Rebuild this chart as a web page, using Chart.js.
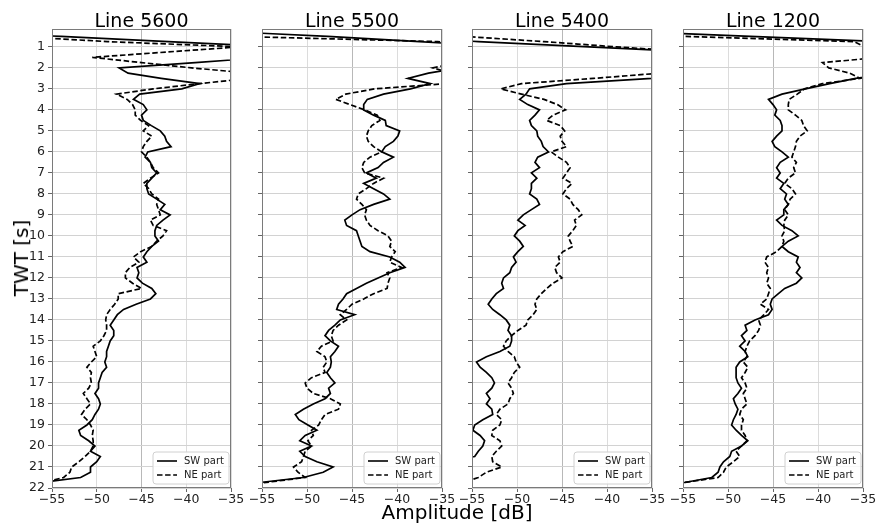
<!DOCTYPE html>
<html><head><meta charset="utf-8">
<script src="https://cdn.jsdelivr.net/npm/chart.js@4.4.1/dist/chart.umd.min.js"></script>
<style>
html,body{margin:0;padding:0;background:#fff;}
body{width:877px;height:526px;overflow:hidden;position:relative;font-family:"DejaVu Sans",sans-serif;color:#000;}
canvas{position:absolute;top:0;}
#ylab{position:absolute;left:21px;top:258px;transform:translate(-50%,-50%) rotate(-90deg);font-size:20px;white-space:nowrap;}
#xlab{position:absolute;left:457px;top:512px;transform:translate(-50%,-50%);font-size:20px;white-space:nowrap;}
</style></head>
<body>
<canvas id="c0" width="251" height="518" style="left:0px"></canvas>
<canvas id="c1" width="230" height="518" style="left:232px"></canvas>
<canvas id="c2" width="230" height="518" style="left:442px"></canvas>
<canvas id="c3" width="230" height="518" style="left:653px"></canvas>
<div id="ylab">TWT [s]</div>
<div id="xlab">Amplitude [dB]</div>
<script>
// ---------------- DATA ----------------
const titles = ["Line 5600", "Line 5500", "Line 5400", "Line 1200"];
const seriesNames = ["SW part", "NE part"];
const xTicks = [-55, -50, -45, -40, -35];
const yTicks = [1,2,3,4,5,6,7,8,9,10,11,12,13,14,15,16,17,18,19,20,21,22];
const twt = [
 0.25,0.5,0.75,1, 1.25,1.5,1.75,2, 2.25,2.5,2.75,3, 3.25,3.5,3.75,4,
 4.25,4.5,4.75,5, 5.25,5.5,5.75,6, 6.25,6.5,6.75,7, 7.25,7.5,7.75,8,
 8.25,8.5,8.75,9, 9.25,9.5,9.75,10, 10.25,10.5,10.75,11, 11.25,11.5,11.75,12,
 12.25,12.5,12.75,13, 13.25,13.5,13.75,14, 14.25,14.5,14.75,15, 15.25,15.5,15.75,16,
 16.25,16.5,16.75,17, 17.25,17.5,17.75,18, 18.25,18.5,18.75,19, 19.25,19.5,19.75,20,
 20.25,20.5,20.75,21, 21.25,21.5,21.75
];
const sw5600 = [
 -70,-54,-42,-30, -28,-31,-39,-47.5, -46.5,-42.8,-38.5,-40.5, -45.2,-45.9,-44.8,-44.4,
 -45,-44.8,-43.9,-42.9, -42.4,-42.2,-41.7,-44.3, -44.6,-44,-43.85,-43.3, -43.85,-44.4,-44.4,-44.2,
 -43.3,-42.4,-42.9,-41.8, -42.6,-43.3,-43.5,-43.5, -43.1,-43.85,-44.4,-44.8, -44.4,-45.5,-45.3,-45.5,
 -44.9,-43.85,-43.4,-44.0, -45.6,-47,-47.7,-48.1, -48.5,-48.1,-48.1,-48.5, -48.7,-48.9,-48.9,-49.1,
 -48.9,-49.4,-49.6,-49.8, -49.8,-50.2,-49.8,-49.6, -49.8,-50.2,-50.5,-51.1, -52,-51.8,-50.9,-50.2,
 -50.7,-49.6,-50.0,-50.7, -50.7,-51.8,-56.5
];
const ne5600 = [
 -70,-59,-48.8,-34, -42.3,-50.5,-45,-39.4, -33,-33,-38.5,-43.7, -47.8,-46.6,-46,-45.7,
 -45.7,-45.1,-44.2,-44.8, -43.85,-44.4,-44.8,-45, -44.4,-44,-43.7,-43.1, -44,-44.8,-44.2,-43.85,
 -43.1,-43.3,-43.1,-42.9, -44,-43.7,-42.2,-42.6, -43.3,-43.85,-45.1,-45.9, -45.3,-46.3,-46.8,-46.8,
 -46,-45,-47.6,-47.6, -48,-48.5,-48.9,-49, -48.9,-48.9,-49.2,-49.6, -50.4,-50.2,-50,-50.6,
 -51.1,-50.6,-50.7,-50.6, -50.9,-51.5,-51.1,-50.7, -51.3,-51.7,-51.1,-50.7, -50.4,-50.5,-50.4,-50.4,
 -50.7,-51.3,-52,-52.8, -53,-53.7,-56
];
const sw5500 = [
 -60,-47.7,-37.5,-28, -28,-28,-30,-33, -36.5,-38.8,-36.3,-38.5, -41.5,-43.3,-43.7,-43.7,
 -42.6,-41.3,-41.2,-39.7, -39.9,-40.4,-41.3,-41.7, -40.4,-41.5,-42.1,-43.4, -42.3,-43.7,-42.6,-41.5,
 -40.8,-42.6,-44.1,-45, -45.8,-45.6,-44.5,-44.3, -44.1,-43.9,-43,-40.8, -39.7,-39.1,-40.8,-42.1,
 -43.4,-44.5,-45.6,-46, -46.5,-46.7,-44.7,-46.3, -46.9,-47.6,-48,-47.4, -46.5,-46.9,-47.4,-47.3,
 -47.4,-47.8,-47.4,-46.9, -47.6,-47.4,-48,-49.3, -50.4,-51.3,-50.9,-49.9, -48.9,-50.2,-50.8,-49.5,
 -50.8,-50.2,-48.9,-47.1, -48.2,-50.4,-55.5
];
const ne5500 = [
 -70,-58,-35.5,-30, -30,-30,-33,-36, -34,-32,-34.5,-42.5, -45.7,-46.8,-45.2,-43.6,
 -42.2,-41.9,-42.8,-43.2, -43.4,-43.2,-42.6,-41.7, -43,-43.7,-43.9,-43.6, -41.5,-42.6,-43.4,-44.3,
 -44.5,-43.9,-43.4,-43.6, -43.4,-43,-42.1,-41, -40.6,-40.8,-40.2,-40.6, -40.8,-39.5,-41.1,-40.8,
 -41,-41.1,-42.6,-43.7, -45,-45.6,-46.3,-45.6, -46.5,-47.1,-47.3,-47.1, -48.4,-48.9,-48,-47.8,
 -48.2,-48,-49.5,-50.2, -50,-49.3,-47.4,-46.3, -46.5,-48,-48.4,-48.7, -49.5,-49.3,-49.9,-49.5,
 -50.2,-50.4,-50.6,-51.5, -51,-50.2,-54.8
];
const sw5400 = [
 -75,-65,-54.3,-42, -30,-28,-28,-28, -30,-35,-44.5,-48.6, -49,-49.7,-48.8,-47.5,
 -48,-48.6,-48.4,-47.8, -47.7,-47.3,-47.1,-46.5, -47.7,-48,-47.5,-48.4, -47.8,-48.4,-48.4,-48.6,
 -47.8,-47.5,-48.4,-49.3, -49.9,-49.1,-49.9,-50.3, -49.7,-49.3,-49.9,-50.4, -50.1,-50.6,-50.8,-51.5,
 -51.7,-51.5,-52.3,-52.8, -53.2,-52.7,-51.9,-51.2, -50.8,-51,-50.6,-50.6, -50.8,-51.9,-53.4,-54.5,
 -54.1,-53.4,-52.8,-52.5, -52.8,-53.4,-53,-53.4, -52.8,-52.7,-53.8,-54.7, -54.9,-54.1,-53.6,-53.8,
 -54.3,-54.7,-58,-60, -60,-60,-60
];
const ne5400 = [
 -75,-56,-47,-39, -30,-28,-28,-30, -34,-41.5,-49.5,-51.8, -49.5,-47,-45.5,-44.6,
 -46,-46.7,-45.2,-44.7, -45.2,-45,-44.5,-46.2, -45.4,-44.5,-44.1,-44.5, -44.9,-43.9,-44.5,-44.9,
 -44.1,-43.8,-43.2,-42.8, -43.6,-43.4,-43.8,-44.3, -44.1,-43.8,-44.9,-45.4, -45.2,-45.8,-45.6,-45,
 -46,-46.7,-47.3,-47.8, -48,-47.8,-48.2,-48.8, -49,-49.9,-50.6,-51.2, -51.5,-51,-50.3,-50.1,
 -49.7,-50.3,-50.6,-51, -50.6,-50.4,-50.8,-51, -51.9,-52.3,-51.7,-51.9, -52.7,-52.8,-51.9,-51.7,
 -52.3,-52.8,-52.7,-51.7, -53.4,-54.3,-56
];
const sw1200 = [
 -62,-47.5,-33,-30, -30,-30,-30,-30, -32,-35.8,-38.7,-41.4, -44,-45.5,-45,-44.6,
 -44.8,-44.2,-44,-44, -44.6,-45.1,-44.8,-44, -43.3,-44.2,-44.6,-44.2, -44.6,-43.8,-44.2,-43.5,
 -43.7,-43.3,-43.8,-43.8, -44.6,-44,-42.9,-42.2, -43.3,-44,-43.3,-42.2, -42.4,-42,-42.4,-41.8,
 -42.4,-43.7,-44.4,-45.1, -45.3,-45.1,-45.5,-47, -48.1,-47.9,-48.5,-48.1, -48.7,-48.1,-47.8,-48.7,
 -49.1,-49.1,-49.1,-48.9, -48.5,-48.9,-49.4,-49.2, -48.9,-49.1,-49.4,-49.6, -49.1,-48.5,-47.8,-48.5,
 -49.6,-49.8,-50.5,-50.9, -51.1,-51.8,-55
];
const ne1200 = [
 -70,-55,-36,-34.8, -33,-33,-39.5,-38.8, -36.5,-35.3,-39.5,-41.5, -42.3,-43.2,-43.3,-43.3,
 -42.5,-41.8,-41.6,-41.2, -42,-42.4,-42.5,-42.7, -42.9,-42.4,-42.7,-42.5, -43.3,-43.7,-42.9,-42.5,
 -43.1,-43.3,-43.7,-43.3, -43.7,-43.8,-43.7,-44, -43.8,-44,-44.6,-45.7, -45.9,-45.5,-45.7,-45.5,
 -45.7,-45.3,-45.5,-45.7, -46.4,-45.5,-46,-46.6, -46.4,-46.6,-47,-47.6, -47.9,-48.1,-47.9,-48.3,
 -47.8,-48.1,-48.5,-48.1, -47.9,-48.3,-48.1,-47.9, -48.5,-48.7,-48.3,-48.5, -48.5,-48.1,-47.9,-48.5,
 -49.1,-48.7,-49.4,-50.2, -50.5,-51.1,-55
];
const panelSeries = [[sw5600, ne5600], [sw5500, ne5500], [sw5400, ne5400], [sw1200, ne1200]];

// ---------------- LAYOUT / STYLE ----------------
const layoutCfg = [
  {yw: 52, pl: 0,  pr: 20, labels: true},
  {yw: 5,  pl: 25, pr: 20, labels: false},
  {yw: 5,  pl: 25, pr: 20, labels: false},
  {yw: 5,  pl: 25, pr: 20, labels: false}
];
const FONT = '"DejaVu Sans", sans-serif';
Chart.defaults.font.family = FONT;
Chart.defaults.color = '#222';

const minus = v => (v < 0 ? '\u2212' : '') + Math.abs(v);

const framePlugin = {
  id: 'frame',
  afterDatasetsDraw(chart) {
    const a = chart.chartArea, ctx = chart.ctx;
    ctx.save();
    ctx.strokeStyle = '#7a7a7a'; ctx.lineWidth = 1;
    ctx.strokeRect(Math.round(a.left) + 0.5, Math.round(a.top) + 0.5,
                   Math.round(a.right - a.left) - 1, Math.round(a.bottom - a.top) - 1);
    ctx.restore();
  }
};
const titlePlugin = {
  id: 'ptitle',
  afterDraw(chart, args, opts) {
    const a = chart.chartArea, ctx = chart.ctx;
    ctx.save();
    ctx.font = '19px ' + FONT; ctx.fillStyle = '#000';
    ctx.textAlign = 'center'; ctx.textBaseline = 'alphabetic';
    ctx.fillText(opts.text, (a.left + a.right) / 2, 26.5);
    ctx.restore();
  }
};
const legendPlugin = {
  id: 'plegend',
  afterDraw(chart) {
    const a = chart.chartArea, ctx = chart.ctx;
    const x0 = a.right - 78, y0 = a.bottom - 36, w = 76, h = 32, r = 3;
    ctx.save();
    ctx.beginPath();
    ctx.moveTo(x0 + r, y0); ctx.lineTo(x0 + w - r, y0); ctx.arcTo(x0 + w, y0, x0 + w, y0 + r, r);
    ctx.lineTo(x0 + w, y0 + h - r); ctx.arcTo(x0 + w, y0 + h, x0 + w - r, y0 + h, r);
    ctx.lineTo(x0 + r, y0 + h); ctx.arcTo(x0, y0 + h, x0, y0 + h - r, r);
    ctx.lineTo(x0, y0 + r); ctx.arcTo(x0, y0, x0 + r, y0, r); ctx.closePath();
    ctx.fillStyle = 'rgba(255,255,255,0.85)'; ctx.fill();
    ctx.strokeStyle = '#d0d0d0'; ctx.lineWidth = 1; ctx.stroke();
    chart.data.datasets.forEach((ds, i) => {
      const yy = a.bottom - 27 + i * 14;
      ctx.beginPath();
      ctx.setLineDash(ds.borderDash || []);
      ctx.strokeStyle = '#000'; ctx.lineWidth = 1.6;
      ctx.moveTo(a.right - 74, yy); ctx.lineTo(a.right - 54, yy); ctx.stroke();
      ctx.setLineDash([]);
      ctx.font = '10px ' + FONT; ctx.fillStyle = '#222';
      ctx.textAlign = 'left'; ctx.textBaseline = 'middle';
      ctx.fillText(ds.label, a.right - 47, yy);
    });
    ctx.restore();
  }
};

panelSeries.forEach((pair, p) => {
  const L = layoutCfg[p];
  const datasets = pair.map((amp, k) => {
    if (amp.length !== twt.length) throw new Error('length mismatch panel ' + p + ' series ' + k + ': ' + amp.length);
    return {
      label: seriesNames[k],
      data: twt.map((t, i) => ({x: amp[i], y: t})),
      showLine: true, borderColor: '#000', borderWidth: 1.7,
      borderDash: k === 1 ? [5.5, 2.6] : [],
      pointRadius: 0, tension: 0, fill: false
    };
  });
  new Chart(document.getElementById('c' + p), {
    type: 'scatter',
    data: {datasets},
    plugins: [framePlugin, titlePlugin, legendPlugin],
    options: {
      responsive: false, animation: false, events: [],
      layout: {padding: {top: 29, bottom: 0, left: L.pl, right: L.pr}},
      plugins: {legend: {display: false}, tooltip: {enabled: false}, ptitle: {text: titles[p]}},
      scales: {
        x: {
          type: 'linear', position: 'bottom', min: -55, max: -35,
          afterBuildTicks: s => { s.ticks = xTicks.map(v => ({value: v})); },
          afterFit: s => { s.height = 30; },
          grid: {color: c => (c.tick && c.tick.value === -45) ? '#b8b8b8' : '#dcdcdc',
                 tickColor: '#666', tickLength: 4, lineWidth: 1},
          border: {display: false},
          ticks: {callback: minus, font: {size: 12.5}, color: '#222', padding: 0, maxRotation: 0, autoSkip: false}
        },
        y: {
          type: 'linear', position: 'left', reverse: true, min: 0.15, max: 22,
          afterBuildTicks: s => { s.ticks = yTicks.map(v => ({value: v})); },
          afterFit: s => { s.width = L.yw; },
          grid: {color: '#d2d2d2', tickColor: '#666', tickLength: 4, lineWidth: 1},
          border: {display: false},
          ticks: {callback: v => L.labels ? String(v) : '', font: {size: 12.5}, color: '#222', padding: 3, autoSkip: false}
        }
      }
    }
  });
});
</script>
</body></html>
